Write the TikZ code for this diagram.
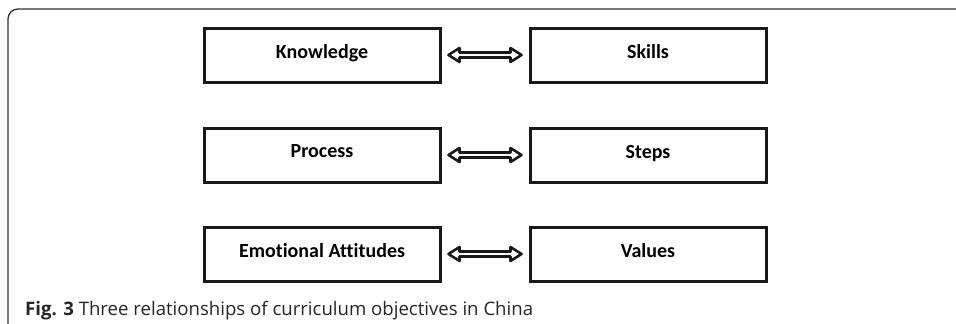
\documentclass[tikz,border=0pt]{standalone}
\usepackage{fontspec}
\usetikzlibrary{calc}
\setmainfont{Carlito}[Ligatures=NoCommon]
\newfontfamily\capfont{Open Sans}
\begin{document}
\begin{tikzpicture}[x=1pt,y=-1pt,
  objbox/.style={draw=black!90, line width=3pt, minimum width=236pt, minimum height=54pt, inner sep=0pt, font=\fontsize{20}{23}\selectfont\bfseries, text depth=0pt},
  dblarrow/.style={draw=black!90, line width=2.6pt, line join=round, fill=white}]
\useasboundingbox (0,0) rectangle (956,324);
\draw[line width=1.3pt, black!80, rounded corners=10pt] (8,326) -- (8,9) -- (958,9);
% boxes
\node[objbox] (k) at (322,55) {\raisebox{7pt}{Knowledge}};
\node[objbox] (s) at (648,55) {\raisebox{7pt}{Skills}};
\node[objbox] (p) at (322,155) {\raisebox{7pt}{Process}};
\node[objbox] (st) at (648,155) {\raisebox{7pt}{Steps}};
\node[objbox] (e) at (322,254) {\raisebox{7pt}{Emotional Attitudes}};
\node[objbox] (v) at (648,254) {\raisebox{7pt}{Values}};
% double arrows
\foreach \a/\b in {k/s, p/st, e/v}{
  \path (\a.east) ++(7,0) coordinate (\a L) (\b.west) ++(-7,0) coordinate (\a R);
  \draw[dblarrow] (\a L) -- ++(11,-7) -- ++(0,4.5) -- ($(\a R)+(-11,-2.5)$) -- ++(0,-4.5) -- (\a R) -- ++(-11,7) -- ++(0,-4.5) -- ($(\a L)+(11,2.5)$) -- ++(0,4.5) -- cycle;
}
\node[anchor=base west, inner sep=0pt, font=\capfont\fontsize{18.6}{21}\selectfont, text=black!85] (cap) at (25,315) {\textbf{Fig. 3} Three relationships of curriculum objectives in China};
\end{tikzpicture}
\end{document}
